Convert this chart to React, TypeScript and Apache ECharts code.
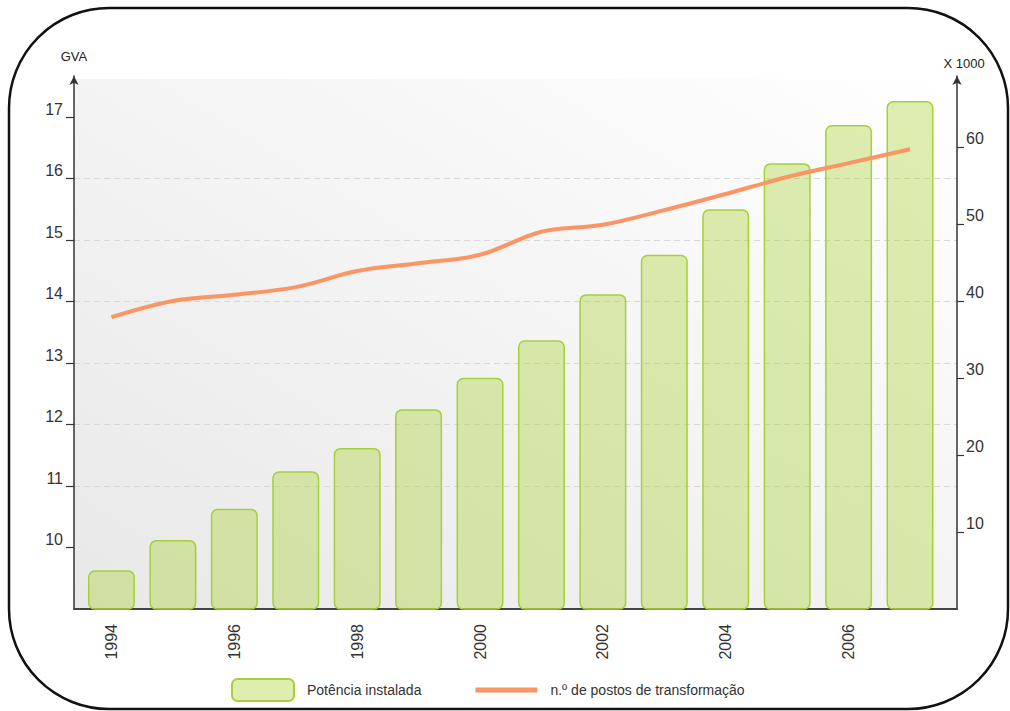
import React, { useEffect, useRef } from "react";
import * as echarts from "echarts";

const years = [1994, 1995, 1996, 1997, 1998, 1999, 2000, 2001, 2002, 2003, 2004, 2005, 2006, 2007];
const power = [9.63, 10.12, 10.63, 11.24, 11.62, 12.25, 12.76, 13.37, 14.12, 14.76, 15.5, 16.25, 16.87, 17.26];
const stations = [37.9, 40.0, 40.8, 41.8, 43.9, 44.9, 46.0, 49.0, 49.9, 51.8, 53.9, 56.1, 57.9, 59.7];
const yearLabels = [1994, 1996, 1998, 2000, 2002, 2004, 2006];
const leftTicks = [10, 11, 12, 13, 14, 15, 16, 17];
const rightTicks = [10, 20, 30, 40, 50, 60];
const seriesNames = ["Potência instalada", "n.º de postos de transformação"];

const FONT = "'Liberation Sans', Arial, sans-serif";
const ORANGE = "#fd9464";

export default function App() {
  const ref = useRef<HTMLDivElement>(null);
  useEffect(() => {
    const chart = echarts.init(ref.current as HTMLDivElement, null, { renderer: "svg" });
    chart.setOption({
      animation: false,
      backgroundColor: "#ffffff",
      textStyle: { fontFamily: FONT },
      grid: { left: 74, right: 53, top: 76, bottom: 102 },
      graphic: [
        {
          type: "rect",
          z: -10,
          silent: true,
          shape: { x: 74, y: 79, width: 883, height: 530 },
          style: {
            fill: new echarts.graphic.LinearGradient(1, 0, 0, 1, [
              { offset: 0, color: "#ffffff" },
              { offset: 1, color: "#e8e8e8" },
            ]),
          },
        },
        {
          type: "rect",
          z: 100,
          silent: true,
          shape: { x: 9, y: 8, width: 999, height: 701, r: 100 },
          style: { fill: "none", stroke: "#111111", lineWidth: 2.5 },
        },
        {
          type: "text",
          x: 74,
          y: 56,
          style: { text: "GVA", fontSize: 13, fontFamily: FONT, fill: "#222", align: "center", verticalAlign: "middle" },
        },
        {
          type: "text",
          x: 964,
          y: 63,
          style: { text: "X 1000", fontSize: 13, fontFamily: FONT, fill: "#222", align: "center", verticalAlign: "middle" },
        },
      ],
      legend: {
        left: 231,
        top: 678,
        padding: 0,
        itemWidth: 62,
        itemHeight: 22,
        itemGap: 54,
        textStyle: { fontSize: 14, color: "#333", padding: [0, 0, 0, 8], fontFamily: FONT },
        data: [
          { name: seriesNames[0] },
          { name: seriesNames[1], icon: "path://M0,0H62V5H0Z", itemStyle: { color: ORANGE } },
        ],
      },
      xAxis: {
        type: "value",
        min: 1993.39,
        max: 2007.765,
        axisLine: { show: true, onZero: false, lineStyle: { color: "#444", width: 2 } },
        axisTick: { show: false },
        splitLine: { show: false },
        axisLabel: {
          customValues: yearLabels,
          formatter: (v: number) => String(v),
          rotate: 90,
          margin: 15,
          fontSize: 16,
          color: "#333",
          fontFamily: FONT,
        },
      },
      yAxis: [
        {
          type: "value",
          position: "left",
          min: 9,
          max: 17.667,
          interval: 1,
          axisLine: {
            show: true,
            onZero: false,
            symbol: ["none", "arrow"],
            symbolSize: [7, 9],
            lineStyle: { color: "#333", width: 1.5 },
          },
          axisTick: { show: true, length: 8, customValues: leftTicks, lineStyle: { color: "#333", width: 1.2 } },
          axisLabel: {
            customValues: leftTicks,
            fontSize: 16,
            color: "#333",
            margin: 11,
            verticalAlign: "bottom",
            fontFamily: FONT,
          },
          splitLine: {
            show: true,
            showMinLine: false,
            showMaxLine: false,
            lineStyle: { color: "#d8d8d8", width: 1, type: [6, 4] },
          },
        },
        {
          type: "value",
          position: "right",
          min: 0,
          max: 69.22,
          interval: 10,
          axisLine: {
            show: true,
            onZero: false,
            symbol: ["none", "arrow"],
            symbolSize: [7, 9],
            lineStyle: { color: "#333", width: 1.5 },
          },
          axisTick: { show: true, length: 7, customValues: rightTicks, lineStyle: { color: "#333", width: 1.2 } },
          axisLabel: {
            customValues: rightTicks,
            fontSize: 16,
            color: "#333",
            margin: 9,
            verticalAlign: "bottom",
            fontFamily: FONT,
          },
          splitLine: { show: false },
        },
      ],
      series: [
        {
          name: seriesNames[0],
          type: "bar",
          barWidth: 47,
          data: years.map((y, i) => [y, power[i]]),
          itemStyle: {
            color: "rgba(172,212,60,0.4)",
            borderColor: "#a5d03a",
            borderWidth: 1.5,
            borderRadius: 6,
          },
        },
        {
          name: seriesNames[1],
          type: "line",
          yAxisIndex: 1,
          smooth: 0.35,
          symbol: "none",
          data: years.map((y, i) => [y, stations[i]]),
          lineStyle: { color: ORANGE, width: 4 },
          itemStyle: { color: ORANGE },
        },
      ],
    });
    return () => chart.dispose();
  }, []);
  return (
    <div
      ref={ref}
      style={{ position: "fixed", left: 0, top: 0, width: 1010, height: 711, background: "#fff" }}
    />
  );
}
